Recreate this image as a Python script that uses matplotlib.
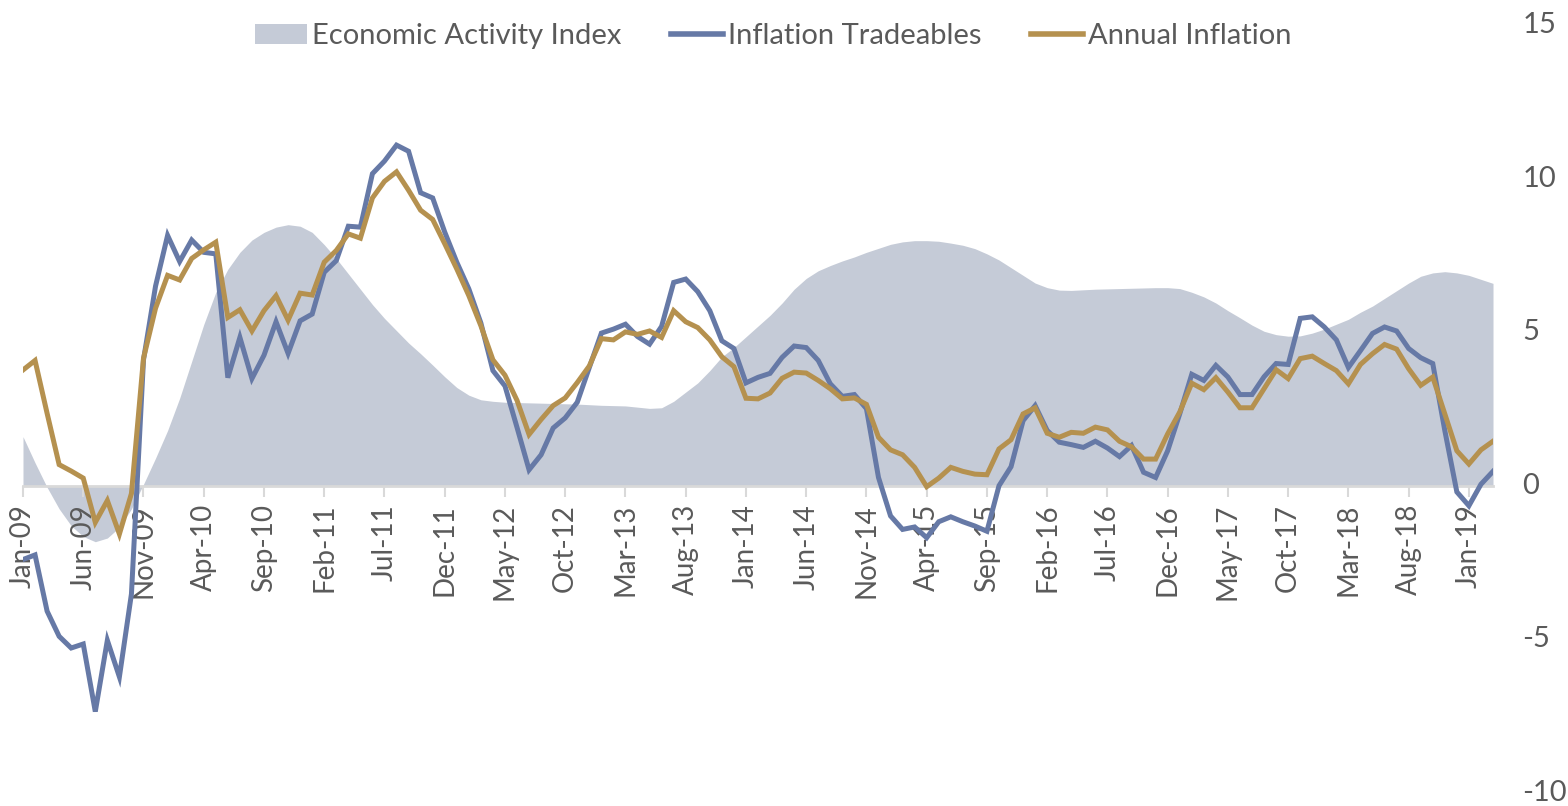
import matplotlib
matplotlib.use('Agg')
from matplotlib import pyplot as plt
import numpy as np
import pandas as pd

# monthly data, Jan-2009 .. Mar-2019
months = pd.date_range('2009-01-01', periods=123, freq='MS')

activity = [1.6, 0.75, -0.05, -0.75, -1.3, -1.65, -1.82, -1.7, -1.35, -0.75,
            0.05, 0.9, 1.8, 2.85, 4.05, 5.25, 6.3, 7.05, 7.6, 8.0,
            8.25, 8.42, 8.5, 8.45, 8.25, 7.85, 7.4, 6.9, 6.4, 5.9,
            5.45, 5.05, 4.65, 4.3, 3.93, 3.55, 3.2, 2.95, 2.8, 2.75,
            2.72, 2.71, 2.7, 2.69, 2.68, 2.67, 2.66, 2.64, 2.62, 2.61,
            2.6, 2.56, 2.52, 2.54, 2.75, 3.05, 3.35, 3.75, 4.2, 4.5,
            4.85, 5.2, 5.55, 5.95, 6.4, 6.75, 7.0, 7.17, 7.32, 7.45,
            7.6, 7.73, 7.86, 7.94, 7.98, 7.98, 7.96, 7.9, 7.83, 7.72,
            7.55, 7.35, 7.1, 6.85, 6.6, 6.45, 6.37, 6.36, 6.38, 6.4,
            6.41, 6.42, 6.43, 6.44, 6.45, 6.45, 6.42, 6.3, 6.15, 5.95,
            5.7, 5.47, 5.23, 5.03, 4.92, 4.87, 4.88, 4.97, 5.1, 5.26,
            5.42, 5.65, 5.85, 6.1, 6.35, 6.6, 6.82, 6.93, 6.97, 6.93,
            6.85, 6.72, 6.59]

tradeables = [-2.4, -2.25, -4.08, -4.9, -5.28, -5.15, -7.35, -5.03, -6.22, -3.52,
              4.1, 6.5, 8.15, 7.3, 8.0, 7.6, 7.55, 3.52, 4.83, 3.49,
              4.25, 5.34, 4.31, 5.37, 5.59, 6.95, 7.33, 8.45, 8.42, 10.16,
              10.57, 11.09, 10.89, 9.54, 9.37, 8.26, 7.28, 6.41, 5.3, 3.75,
              3.25, 1.9, 0.52, 1.01, 1.88, 2.21, 2.72, 3.85, 4.97, 5.1,
              5.26, 4.86, 4.61, 5.19, 6.62, 6.73, 6.32, 5.7, 4.72, 4.47,
              3.35, 3.53, 3.66, 4.18, 4.55, 4.5, 4.08, 3.32, 2.91, 2.97,
              2.51, 0.27, -0.98, -1.42, -1.34, -1.69, -1.17, -1.01, -1.17, -1.31,
              -1.48, 0.0, 0.62, 2.12, 2.61, 1.8, 1.42, 1.34, 1.25, 1.45,
              1.23, 0.95, 1.31, 0.44, 0.27, 1.14, 2.34, 3.63, 3.43, 3.92,
              3.54, 2.97, 2.97, 3.55, 3.98, 3.95, 5.45, 5.5, 5.17, 4.75,
              3.85, 4.4, 4.96, 5.17, 5.04, 4.47, 4.17, 3.98, 1.8, -0.2,
              -0.65, 0.05, 0.47]

annual = [3.77, 4.08, 2.36, 0.69, 0.48, 0.25, -1.19, -0.48, -1.57, -0.25,
          4.15, 5.78, 6.85, 6.7, 7.4, 7.68, 7.93, 5.48, 5.73, 5.04,
          5.7, 6.19, 5.39, 6.27, 6.21, 7.28, 7.66, 8.2, 8.06, 9.37,
          9.91, 10.22, 9.62, 8.97, 8.67, 7.88, 7.06, 6.19, 5.21, 4.1,
          3.6, 2.78, 1.67, 2.16, 2.61, 2.86, 3.36, 3.9, 4.79, 4.75,
          5.01, 4.93, 5.04, 4.83, 5.7, 5.34, 5.15, 4.75, 4.2, 3.88,
          2.85, 2.83, 3.02, 3.5, 3.7, 3.67, 3.43, 3.16, 2.83, 2.86,
          2.65, 1.58, 1.17, 1.01, 0.6, -0.03, 0.25, 0.6, 0.47, 0.38,
          0.36, 1.2, 1.5, 2.34, 2.54, 1.71, 1.58, 1.74, 1.71, 1.91,
          1.82, 1.45, 1.27, 0.87, 0.87, 1.69, 2.4, 3.34, 3.13, 3.52,
          3.05, 2.54, 2.54, 3.16, 3.78, 3.49, 4.14, 4.22, 3.98, 3.75,
          3.32, 3.95, 4.3, 4.6, 4.45, 3.81, 3.27, 3.54, 2.34, 1.14,
          0.71, 1.17, 1.45]

tick_idx = list(range(0, 123, 5))
tick_labels = [months[i].strftime('%b-%y') for i in tick_idx]
y_ticks = [-10, -5, 0, 5, 10, 15]

plt.rcParams['font.family'] = ['Lato', 'DejaVu Sans']
text_col = '#5a5a5a'

fig = plt.figure(figsize=(15.68, 8.06), dpi=100)
ax = fig.add_axes([23/1568, 13/806, (1493-23)/1568, (793-25)/806])

x = np.arange(len(months))
ax.fill_between(x, 0, activity, color='#c5cbd7', linewidth=0,
                label='Economic Activity Index', zorder=1)
ax.plot(x, tradeables, color='#6679a6', lw=3.6, label='Inflation Tradeables',
        zorder=3, solid_joinstyle='miter')
ax.plot(x, annual, color='#b5914f', lw=3.6, label='Annual Inflation',
        zorder=4, solid_joinstyle='miter')

ax.set_xlim(0, 122)
ax.set_ylim(-10, 15)

for s in ['top', 'left', 'right']:
    ax.spines[s].set_visible(False)
ax.spines['bottom'].set_position(('data', 0))
ax.spines['bottom'].set_color('#d9d9d9')
ax.spines['bottom'].set_linewidth(2)
ax.spines['bottom'].set_zorder(2)

ax.set_xticks(tick_idx)
ax.set_xticklabels(tick_labels, rotation=90, fontsize=20, color=text_col)
ax.tick_params(axis='x', length=8, width=1.5, color='#d9d9d9', pad=5)

ax.yaxis.tick_right()
ax.set_yticks(y_ticks)
ax.set_yticklabels([str(v) for v in y_ticks], fontsize=21, color=text_col,
                   va='center')
ax.tick_params(axis='y', length=0, pad=21)

leg = fig.legend(loc='upper center', bbox_to_anchor=(0.493, 1.004), ncol=3,
                 frameon=False, fontsize=21, handlelength=1.8,
                 handletextpad=0.15, columnspacing=1.7, labelcolor=text_col)
for h in leg.legend_handles[1:]:
    h.set_linewidth(4)

fig.savefig('out.png', dpi=100)
